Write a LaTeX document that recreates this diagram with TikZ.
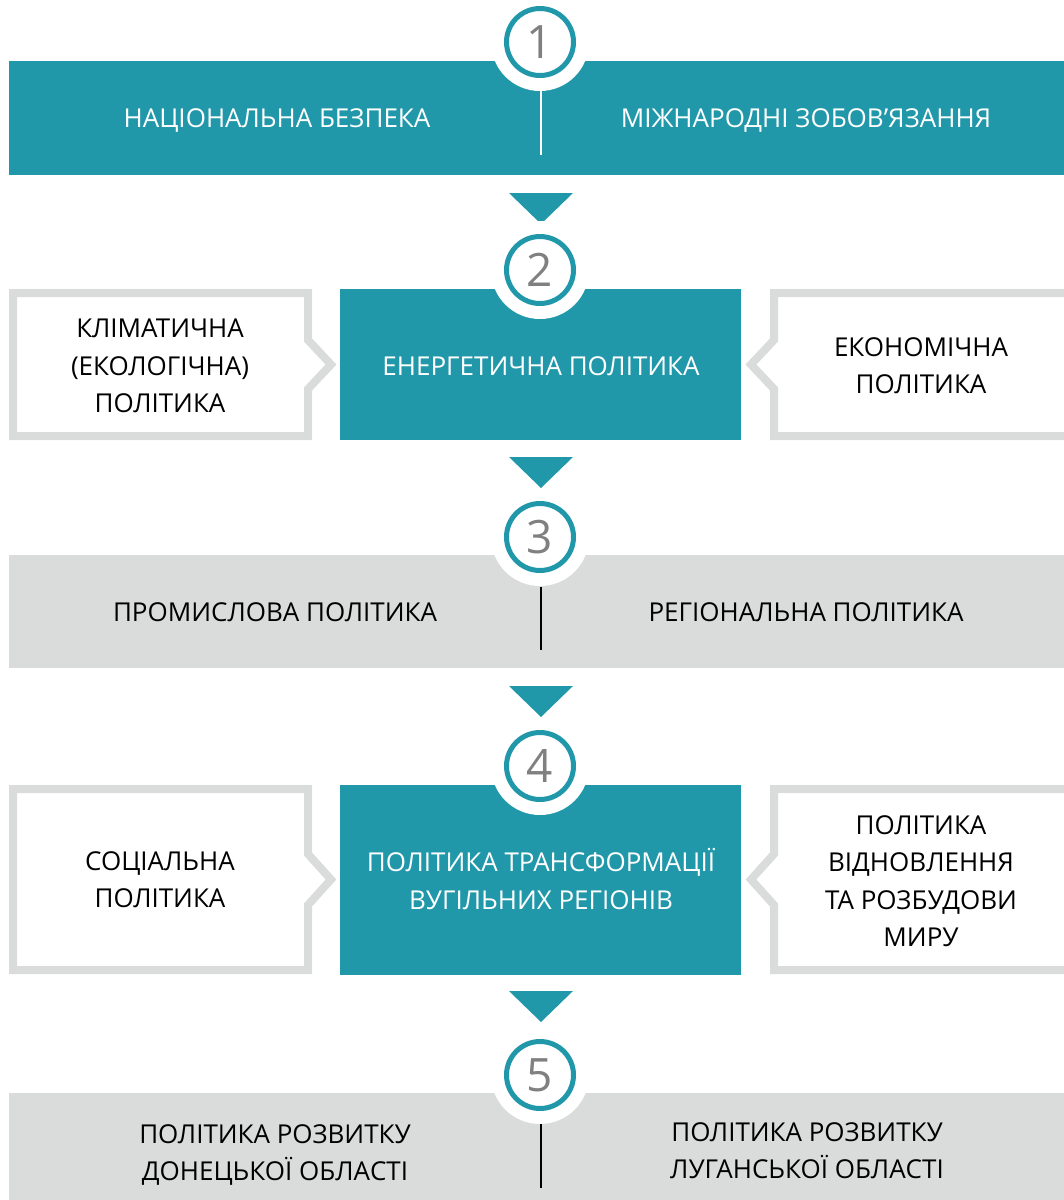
\documentclass[tikz,border=0pt]{standalone}
\usepackage{fontspec}
\setmainfont{Open Sans}
\usepackage{tikz}

\definecolor{tealband}{RGB}{33,152,170}
\definecolor{greyband}{RGB}{218,220,219}
\definecolor{numgrey}{RGB}{128,128,128}

\tikzset{
  halo/.style={circle, fill=white, inner sep=0pt, minimum size=49pt},
  numring/.style={circle, draw=tealband, line width=2.5pt, fill=white, inner sep=0pt,
    minimum size=33.5pt, text=numgrey, font=\fontsize{23}{23}\selectfont},
  sidebox/.style={draw=greyband, line width=4pt, fill=white},
  downtri/.style={fill=tealband},
  lbl/.style={align=center, font=\fontsize{13}{18.7}\selectfont},
  divider/.style={line width=0.8pt},
}

\begin{document}
\begin{tikzpicture}[x=0.5pt, y=-0.5pt]
  \useasboundingbox (0,0) rectangle (1064,1200);

  % rows
  \fill[tealband] (9,61) rectangle (1064,175);
  \fill[tealband] (340,289) rectangle (741,440);
  \fill[greyband] (9,555) rectangle (1064,668);
  \fill[tealband] (340,785) rectangle (741,975);
  \fill[greyband] (9,1093) rectangle (1064,1200);

  % side boxes with notches
  \draw[sidebox] (13,293) -- (308,293) -- (308,340) -- (331,364.5) -- (308,389)
    -- (308,436) -- (13,436) -- cycle;
  \draw[sidebox] (1070,293) -- (774,293) -- (774,340) -- (751,364.5) -- (774,389)
    -- (774,436) -- (1070,436);
  \draw[sidebox] (13,789) -- (308,789) -- (308,854) -- (331,879.5) -- (308,905)
    -- (308,970) -- (13,970) -- cycle;
  \draw[sidebox] (1070,789) -- (774,789) -- (774,854) -- (751,879.5) -- (774,905)
    -- (774,970) -- (1070,970);

  % down triangles
  \foreach \ty in {193, 457, 686, 991}
    \fill[downtri] (509,\ty) -- (573,\ty) -- (541,\ty+31) -- cycle;

  % numbered circles
  \foreach \k/\cy in {1/42, 2/270, 3/537, 4/766, 5/1075} {
    \node[halo] (h\k) at (540,\cy) {};
    \node[numring] (n\k) at (540,\cy) {\k};
  }

  % dividers
  \coordinate (d1a) at (541,90);   \coordinate (d1b) at (541,155);
  \coordinate (d3a) at (541,587);  \coordinate (d3b) at (541,650);
  \coordinate (d5a) at (541,1124); \coordinate (d5b) at (541,1188);
  \draw[divider, white] (d1a) -- (d1b);
  \draw[divider, black] (d3a) -- (d3b);
  \draw[divider, black] (d5a) -- (d5b);

  % labels
  \node[lbl, text=white] (natsec) at (277,120) {НАЦІОНАЛЬНА БЕЗПЕКА};
  \node[lbl, text=white] (intobl) at (806,120) {МІЖНАРОДНІ ЗОБОВ’ЯЗАННЯ};

  \node[lbl] (climate) at (160,366) {КЛІМАТИЧНА\\(ЕКОЛОГІЧНА)\\ПОЛІТИКА};
  \node[lbl, text=white] (energy) at (541,366) {ЕНЕРГЕТИЧНА ПОЛІТИКА};
  \node[lbl] (econ) at (921,366) {ЕКОНОМІЧНА\\ПОЛІТИКА};

  \node[lbl] (indus) at (275,612) {ПРОМИСЛОВА ПОЛІТИКА};
  \node[lbl] (region) at (806,612) {РЕГІОНАЛЬНА ПОЛІТИКА};

  \node[lbl] (social) at (160,880) {СОЦІАЛЬНА\\ПОЛІТИКА};
  \node[lbl, text=white] (transf) at (541,879) {ПОЛІТИКА ТРАНСФОРМАЦІЇ\\ВУГІЛЬНИХ РЕГІОНІВ};
  \node[lbl] (peace) at (921,881) {ПОЛІТИКА\\ВІДНОВЛЕННЯ\\ТА РОЗБУДОВИ\\МИРУ};

  \node[lbl] (donetsk) at (275,1155) {ПОЛІТИКА РОЗВИТКУ\\ДОНЕЦЬКОЇ ОБЛАСТІ};
  \node[lbl] (luhansk) at (807,1151) {ПОЛІТИКА РОЗВИТКУ\\ЛУГАНСЬКОЇ ОБЛАСТІ};
\end{tikzpicture}
\end{document}
